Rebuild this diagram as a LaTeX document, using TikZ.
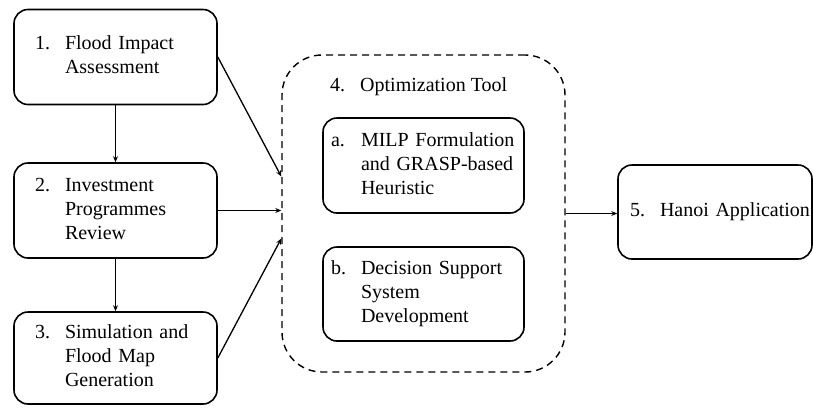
\documentclass[tikz,border=0pt]{standalone}
\usepackage{fontspec}
\setmainfont{Liberation Serif}
\usetikzlibrary{arrows.meta,positioning,calc}
\newcommand{\steplabel}[2]{\begin{tabular}{@{}p{30pt}@{}l@{}}#1 & \begin{tabular}[t]{@{}l@{}}#2\end{tabular}\end{tabular}}
\tikzset{
  stepbox/.style  = {draw, line width=1.6pt, rounded corners=14pt, align=left,
                     inner ysep=0pt, font=\fontsize{20}{24}\selectfont},
  groupbox/.style = {draw, line width=1.4pt, dash pattern=on 7pt off 5pt,
                     rounded corners=40pt},
  flow/.style     = {-{Stealth[length=6pt,width=5pt]}, line width=1.3pt},
}
\begin{document}
\begin{tikzpicture}[x=1pt,y=-1pt]
\useasboundingbox (0,0) rectangle (813,408);
% left column
\node[stepbox, minimum width=203pt, minimum height=95pt, text width=161pt, inner xsep=21pt]
  (impact) at (115.5,57) {\steplabel{1.}{Flood Impact\\Assessment}\\[6pt]};
\node[stepbox, minimum width=203pt, minimum height=95pt, text width=161pt, inner xsep=21pt]
  (review) at (115.5,210.5) {\steplabel{2.}{Investment\\Programmes\\Review}};
\node[stepbox, minimum width=203pt, minimum height=92pt, text width=161pt, inner xsep=21pt]
  (simul) at (115.5,358) {\steplabel{3.}{Simulation and\\Flood Map\\Generation}\\[3pt]};
% optimization tool
\node[groupbox, minimum width=283pt, minimum height=317pt] (opt) at (423.5,213.5) {};
\node[anchor=west, inner sep=0pt, font=\fontsize{20}{24}\selectfont]
  (opttitle) at (330,87) {\steplabel{4.}{Optimization Tool}};
\node[stepbox, minimum width=201pt, minimum height=95pt, text width=185pt, inner xsep=8pt]
  (milp) at (423.5,165.5) {\steplabel{a.}{MILP Formulation\\and GRASP-based\\Heuristic}};
\node[stepbox, minimum width=201pt, minimum height=94pt, text width=185pt, inner xsep=8pt]
  (dss) at (423.5,294) {\steplabel{b.}{Decision Support\\System\\Development}};
% application
\node[stepbox, minimum width=194pt, minimum height=94pt, text width=170pt, inner xsep=12pt]
  (hanoi) at (715,212) {\steplabel{5.}{Hanoi Application}};
% arrows
\draw[flow] (impact.south) -- (review.north);
\draw[flow] (review.south) -- (simul.north);
\draw[flow] (impact.east) -- ($(opt.west)+(0,-37)$);
\draw[flow] (review.east) -- (review.east -| opt.west);
\draw[flow] (simul.east) -- ($(opt.west)+(0,25)$);
\draw[flow] (opt.east) -- (opt.east -| hanoi.west);
\end{tikzpicture}
\end{document}
